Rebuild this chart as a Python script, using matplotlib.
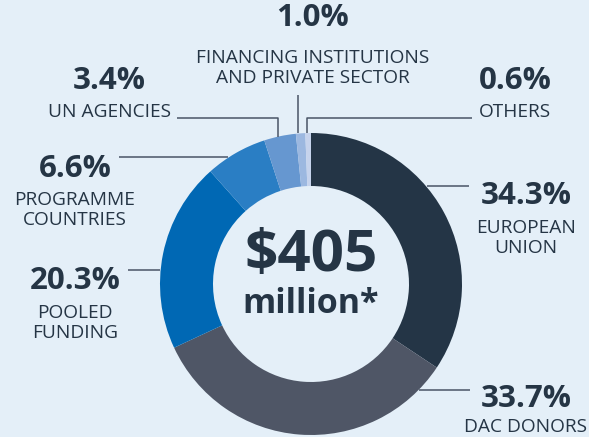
import matplotlib
matplotlib.use("Agg")
import matplotlib.pyplot as plt

# data
labels = ["EUROPEAN\nUNION", "DAC DONORS", "POOLED\nFUNDING",
          "PROGRAMME\nCOUNTRIES", "UN AGENCIES",
          "FINANCING INSTITUTIONS\nAND PRIVATE SECTOR", "OTHERS"]
shares = [34.3, 33.7, 20.3, 6.6, 3.4, 1.0, 0.6]
colors = ["#243546", "#4f5666", "#0068b4", "#2a7ec4", "#6697d0",
          "#9cb8e0", "#c6d3ec"]
total_text = "$405"
total_unit = "million*"

W, H = 589, 437
BG = "#e4eff8"
INK = "#253545"
LINE = "#4a5566"

plt.rcParams['font.family'] = ['Open Sans', 'DejaVu Sans']

fig = plt.figure(figsize=(W / 100, H / 100), dpi=100, facecolor=BG)
ax = fig.add_axes([0, 0, 1, 1])
ax.axis('off')
ax.set_facecolor(BG)


def Y(y):
    # pixel row (top-down) -> data y
    return H - y


cx, cy, R, ring = 311, 284, 151, 53
ax.pie(shares, colors=colors, startangle=90, counterclock=False,
       center=(cx, Y(cy)), radius=R, normalize=True,
       wedgeprops=dict(width=ring, linewidth=0))
ax.set_xlim(0, W)
ax.set_ylim(0, H)
ax.set_aspect('equal')

# centre total
ax.text(cx, Y(256), total_text.replace("$", r"\$"), ha='center',
        va='center', fontsize=42, fontweight='bold', color=INK)
ax.text(cx, Y(304), total_unit, ha='center', va='center',
        fontsize=24.5, fontweight='bold', color=INK)

# label anchors (percentage centre, label centre)
pct_pos = [(526, 196), (526, 399), (75, 281), (75, 169), (109, 81),
           (313, 18), (515, 81)]
lab_pos = [(526, 238), (526, 427), (75, 323), (75, 210), (109, 112),
           (313, 68), (515, 112)]
for s, lab, (px, py), (lx, ly) in zip(shares, labels, pct_pos, lab_pos):
    ax.text(px, Y(py), f"{s:.1f}%", ha='center', va='center',
            fontsize=22.5, fontweight='bold', color=INK)
    ax.text(lx, Y(ly), lab, ha='center', va='center', fontsize=13.8,
            color=INK, linespacing=1.2)

# leader lines
leaders = [
    [(427, 186), (469, 186)],
    [(419, 390), (470, 390)],
    [(128, 270), (160, 270)],
    [(119, 157), (228, 157)],
    [(177, 118), (278, 118), (278, 137)],
    [(298, 95), (298, 133)],
    [(472, 118), (307, 118), (307, 133)],
]
for pts in leaders:
    xs = [p[0] for p in pts]
    ys = [Y(p[1]) for p in pts]
    ax.plot(xs, ys, color=LINE, lw=1.1, solid_capstyle='butt')

fig.savefig("out.png", dpi=100, facecolor=BG)
